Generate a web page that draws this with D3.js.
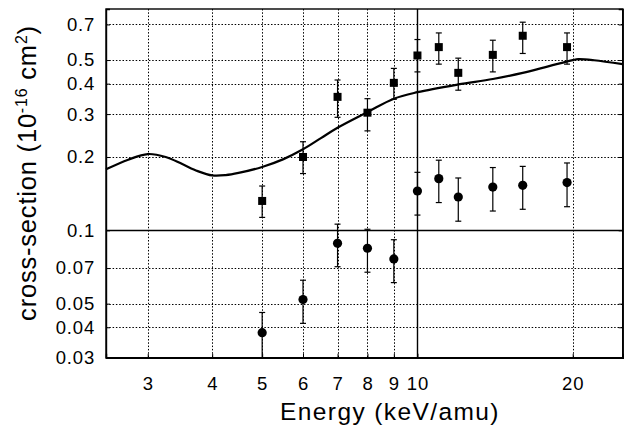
<!DOCTYPE html>
<html>
<head>
<meta charset="utf-8">
<script src="https://cdn.jsdelivr.net/npm/d3@7"></script>
<style>
  body { margin: 0; background: #fff; }
  text { font-family: "Liberation Sans", Arial, Helvetica, sans-serif; fill: #000; }
</style>
</head>
<body>
<div id="vis"></div>
<script>
var energies = [5, 6, 7, 8, 9, 10, 11, 12, 14, 16, 19.5];

var squareVals = [0.132, 0.200, 0.353, 0.304, 0.403, 0.522, 0.565, 0.443, 0.525, 0.629, 0.565],
    squareLo   = [0.113, 0.171, 0.291, 0.256, 0.345, 0.447, 0.481, 0.376, 0.447, 0.532, 0.481],
    squareHi   = [0.152, 0.231, 0.414, 0.347, 0.462, 0.607, 0.646, 0.509, 0.603, 0.715, 0.646];

var circleVals = [0.038, 0.052, 0.0885, 0.0844, 0.0763, 0.145, 0.163, 0.137, 0.1505, 0.153, 0.157],
    circleLo   = [0.030, 0.0415, 0.0709, 0.0673, 0.061, 0.1155, 0.130, 0.109, 0.120, 0.122, 0.125],
    circleHi   = [0.046, 0.0624, 0.106, 0.101, 0.0915, 0.173, 0.194, 0.164, 0.181, 0.183, 0.189];

// theory curve
var curveE    = [2.49, 2.75, 3, 3.25, 3.5, 3.75, 4, 4.25, 4.5, 5, 5.5, 6, 6.5, 7, 8, 9, 10, 12, 14, 16, 18, 20, 20.5, 22, 25],
    curveVals = [0.178, 0.195, 0.2056, 0.200, 0.187, 0.175, 0.168, 0.1685, 0.172, 0.182, 0.196, 0.215, 0.239, 0.2635, 0.3056, 0.347, 0.369, 0.397, 0.418, 0.443, 0.472, 0.4995, 0.504, 0.499, 0.481];

var xTicks = [3, 4, 5, 6, 7, 8, 9, 10, 20],
    yTicks = [0.03, 0.04, 0.05, 0.07, 0.1, 0.2, 0.3, 0.4, 0.5, 0.7];

var width = 628,
    height = 431,
    margin = { top: 9, right: 5.3, bottom: 73.3, left: 106 },
    drawWidth = width - margin.left - margin.right,
    drawHeight = height - margin.top - margin.bottom;

var svg = d3.select('#vis').append('svg')
    .attr('width', width)
    .attr('height', height);

var x = d3.scaleLog()
    .domain([2.49, 25])
    .range([0, drawWidth]);

var y = d3.scaleLog()
    .domain([0.03, 0.81])
    .range([drawHeight, 0]);

var g = svg.append('g')
    .attr('transform', 'translate(' + margin.left + ',' + margin.top + ')');

// dotted grid, the 10 and 0.1 lines are solid
g.append('g').selectAll('line')
    .data(xTicks)
    .enter().append('line')
      .attr('x1', function(d) { return Math.round(x(d)) + 0.5; })
      .attr('x2', function(d) { return Math.round(x(d)) + 0.5; })
      .attr('y1', 0)
      .attr('y2', drawHeight)
      .attr('stroke', '#000')
      .attr('stroke-width', function(d) { return d == 10 ? 1.4 : 1; })
      .attr('stroke-dasharray', function(d) { return d == 10 ? null : '1.5,1.8'; });

g.append('g').selectAll('line')
    .data(yTicks.filter(function(d) { return d != 0.03; }))
    .enter().append('line')
      .attr('x1', 0)
      .attr('x2', drawWidth)
      .attr('y1', function(d) { return Math.round(y(d)) + 0.5; })
      .attr('y2', function(d) { return Math.round(y(d)) + 0.5; })
      .attr('stroke', '#000')
      .attr('stroke-width', function(d) { return d == 0.1 ? 1.4 : 1; })
      .attr('stroke-dasharray', function(d) { return d == 0.1 ? null : '1.5,1.8'; });

// axes
g.append('g')
    .attr('transform', 'translate(0,' + drawHeight + ')')
    .call(d3.axisBottom(x).tickValues(xTicks).tickSize(-4).tickPadding(19).tickFormat(d3.format('d')));

g.append('g')
    .call(d3.axisLeft(y).tickValues(yTicks).tickSize(-4).tickPadding(11).tickFormat(function(d) { return d + ''; }));

g.append('g')
    .attr('transform', 'translate(' + drawWidth + ',0)')
    .call(d3.axisRight(y).tickValues(yTicks).tickSize(-4).tickFormat(''));

g.selectAll('.domain').attr('stroke-width', 1.4);
g.selectAll('.tick text')
    .attr('font-size', 18.5)
    .attr('letter-spacing', 0.8);

g.append('rect')
    .attr('width', drawWidth)
    .attr('height', drawHeight)
    .attr('fill', 'none')
    .attr('stroke', '#000')
    .attr('stroke-width', 1.4);

// theory line
var line = d3.line()
    .x(function(d, i) { return x(curveE[i]); })
    .y(function(d) { return y(d); })
    .curve(d3.curveCatmullRom);

g.append('path')
    .datum(curveVals)
    .attr('d', line)
    .attr('fill', 'none')
    .attr('stroke', '#000')
    .attr('stroke-width', 2.2);

// error bars
function errorBars(lo, hi) {
  var eb = g.append('g').selectAll('g')
      .data(energies)
      .enter().append('g')
        .attr('stroke', '#000')
        .attr('stroke-width', 1.2);
  eb.append('line')
      .attr('x1', function(d) { return x(d); })
      .attr('x2', function(d) { return x(d); })
      .attr('y1', function(d, i) { return y(lo[i]); })
      .attr('y2', function(d, i) { return y(hi[i]); });
  eb.append('line')
      .attr('x1', function(d) { return x(d) - 3; })
      .attr('x2', function(d) { return x(d) + 3; })
      .attr('y1', function(d, i) { return y(lo[i]); })
      .attr('y2', function(d, i) { return y(lo[i]); });
  eb.append('line')
      .attr('x1', function(d) { return x(d) - 3; })
      .attr('x2', function(d) { return x(d) + 3; })
      .attr('y1', function(d, i) { return y(hi[i]); })
      .attr('y2', function(d, i) { return y(hi[i]); });
}

errorBars(squareLo, squareHi);
errorBars(circleLo, circleHi);

g.append('g').selectAll('rect')
    .data(energies)
    .enter().append('rect')
      .attr('x', function(d) { return x(d) - 4; })
      .attr('y', function(d, i) { return y(squareVals[i]) - 4; })
      .attr('width', 8)
      .attr('height', 8)
      .attr('fill', '#000');

g.append('g').selectAll('circle')
    .data(energies)
    .enter().append('circle')
      .attr('cx', function(d) { return x(d); })
      .attr('cy', function(d, i) { return y(circleVals[i]); })
      .attr('r', 4.6)
      .attr('fill', '#000');

// axis titles
svg.append('text')
    .attr('x', 390)
    .attr('y', 420)
    .attr('text-anchor', 'middle')
    .attr('font-size', 24.5)
    .attr('letter-spacing', 1.4)
    .text('Energy (keV/amu)');

var yTitle = svg.append('text')
    .attr('transform', 'translate(36,173) rotate(-90)')
    .attr('text-anchor', 'middle')
    .attr('font-size', 25.5)
    .attr('letter-spacing', 0.8);
yTitle.append('tspan').text('cross-section (10');
yTitle.append('tspan').attr('dy', -9).attr('font-size', 16).text('-16');
yTitle.append('tspan').attr('dy', 9).text(' cm');
yTitle.append('tspan').attr('dy', -9).attr('font-size', 16).text('2');
yTitle.append('tspan').attr('dy', 9).text(')');
</script>
</body>
</html>
